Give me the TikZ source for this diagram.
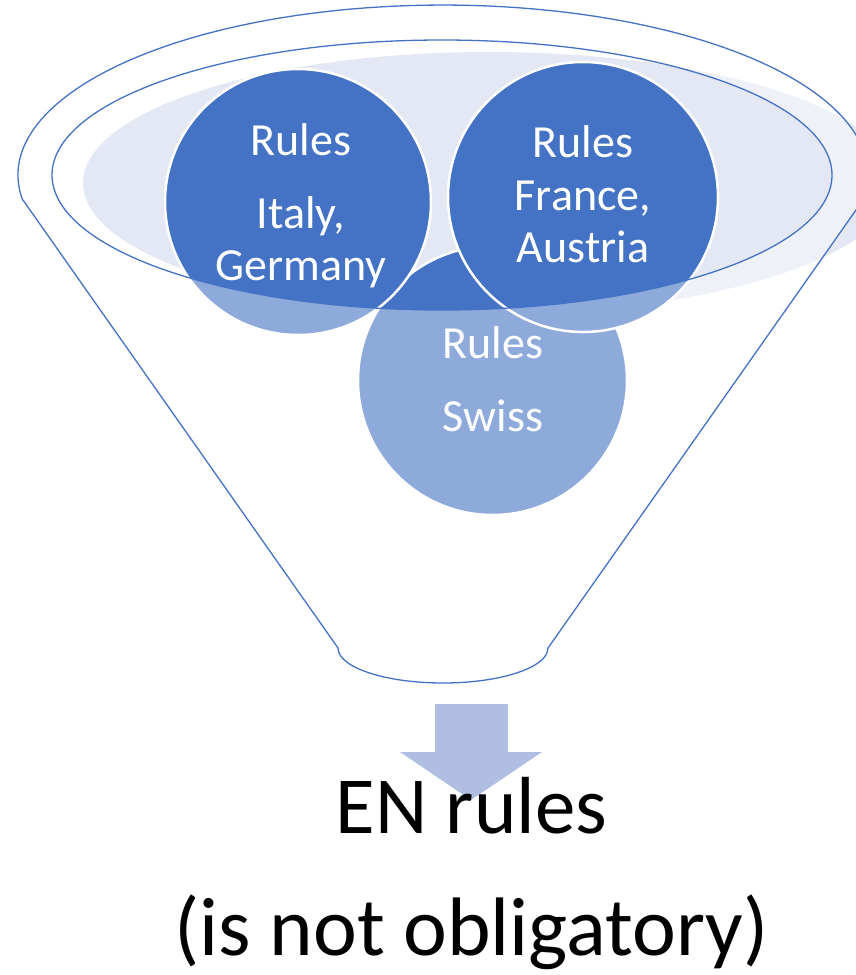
\documentclass[tikz,border=0pt]{standalone}
\usepackage{fontspec}
\setmainfont{Carlito}
\definecolor{fblue}{HTML}{4472C4}
\definecolor{flight}{RGB}{227,232,244}
\definecolor{farrow}{RGB}{176,190,225}
\begin{document}
\begin{tikzpicture}[x=1pt,y=-1pt,
  bubble/.style={circle, fill=fblue, draw=white, line width=2.5pt, inner sep=0pt, outer sep=0pt},
  circtxt/.style={text=white, font=\fontsize{46}{50}\selectfont, anchor=base, inner sep=0pt},
  bigtxt/.style={text=black, font=\fontsize{81}{90}\selectfont, anchor=base, inner sep=0pt},
  funnelline/.style={draw=fblue, line width=1.3pt}]
\useasboundingbox (0,0) rectangle (856,975);
\clip (0,0) rectangle (856,975);
% light ellipse
\fill[flight] (489,183) ellipse [x radius=406, y radius=131];
% circles
\node[bubble, minimum size=269pt] (swiss) at (492.5,380.5) {};
\node[bubble, minimum size=266pt] (italy) at (298,202) {};
\node[bubble, minimum size=270pt] (france) at (583,197) {};
% translucent funnel body
\fill[white, fill opacity=0.4, even odd rule]
  (22.24,199) arc[start angle=171.9, end angle=368.1, x radius=425, y radius=170]
  -- (548,648) arc[start angle=0, end angle=180, x radius=105, y radius=35] -- cycle
  (442,175) ellipse [x radius=390, y radius=135];
% funnel outlines
\draw[funnelline]
  (22.24,199) arc[start angle=171.9, end angle=368.1, x radius=425, y radius=170]
  -- (548,648) arc[start angle=0, end angle=180, x radius=105, y radius=35] -- cycle;
\draw[funnelline] (442,175) ellipse [x radius=390, y radius=135];
% circle texts
\node[circtxt] (it1) at (301,155) {Rules};
\node[circtxt] (it2) at (301,228) {Italy,};
\node[circtxt] (it3) at (301,280) {Germany};
\node[circtxt] (fr1) at (583,157) {Rules};
\node[circtxt] (fr2) at (583,210) {France,};
\node[circtxt] (fr3) at (583,262) {Austria};
\node[circtxt] (sw1) at (493,358) {Rules};
\node[circtxt] (sw2) at (493,431) {Swiss};
% arrow
\fill[farrow] (435,704) -- (508,704) -- (508,752) -- (542,752) -- (471,800) -- (400,752) -- (435,752) -- cycle;
% bottom texts
\node[bigtxt] (en) at (471.5,833) {EN rules};
\node[bigtxt, font=\fontsize{83}{90}\selectfont] (obl) at (471.5,955) {(is not obligatory)};
\end{tikzpicture}
\end{document}
